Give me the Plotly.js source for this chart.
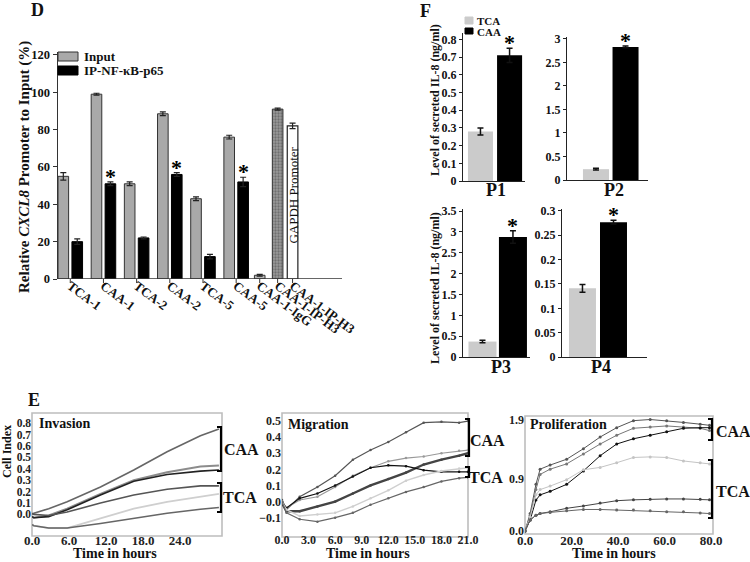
<!DOCTYPE html>
<html><head><meta charset="utf-8">
<script src="https://cdn.plot.ly/plotly-3.0.1.min.js"></script>
<style>html,body{margin:0;padding:0;background:#fff}#chart{width:750px;height:562px}</style>
</head><body><div id="chart"></div>
<script>
// ---------- Panel D data ----------
const dGroups = ["TCA-1","CAA-1","TCA-2","CAA-2","TCA-5","CAA-5"];
const dSeriesNames = ["Input","IP-NF-κB-p65"];
const dInput = [55, 99, 51, 88.5, 43, 76];
const dInputErr = [2, 0.5, 1, 1, 1, 1];
const dIP = [20, 51, 22, 56, 12, 52];
const dIPErr = [1.5, 1, 0.5, 1, 1.2, 2.5];
const dIPSig = [false, true, false, true, false, true];
const dCtrlLabels = ["CAA-1-IgG","CAA-1-IP-H3","CAA-1-IP-H3"];
const dCtrlVals = [2, 91, 82];
const dCtrlErr = [0.5, 0.5, 1.5];
const dCtrlNote = "GAPDH Promoter";

// ---------- Panel F data ----------
const fGroups = ["TCA","CAA"];
const fPanels = ["P1","P2","P3","P4"];
const fTCA = [0.28, 0.23, 0.37, 0.141];
const fTCAErr = [0.02, 0.02, 0.03, 0.008];
const fCAA = [0.71, 2.83, 2.88, 0.277];
const fCAAErr = [0.04, 0.02, 0.15, 0.004];

// ---------- Panel E data ----------
const invT = [0, 0.3, 2.7, 5.7, 11.1, 16.5, 21.9, 27.3, 30.3];
const invCAA1 = [0.0, 0.01, 0.05, 0.11, 0.24, 0.39, 0.55, 0.69, 0.75];
const invCAA2 = [-0.02, -0.03, -0.01, 0.05, 0.18, 0.30, 0.37, 0.42, 0.43];
const invCAA3 = [-0.02, -0.03, -0.02, 0.04, 0.17, 0.29, 0.35, 0.38, 0.39];
const invTCA1 = [0.01, 0.0, -0.01, 0.02, 0.10, 0.17, 0.22, 0.25, 0.25];
const invTCA2 = [-0.08, -0.10, -0.12, -0.12, -0.035, 0.05, 0.11, 0.155, 0.18];
const invTCA3 = [-0.09, -0.10, -0.12, -0.12, -0.08, -0.035, 0.01, 0.045, 0.06];

const migT = [0, 0.5, 2, 4, 6, 8, 10, 12, 14, 16, 18, 20, 21];
const migCAA1 = [0.01, -0.05, 0.03, 0.09, 0.16, 0.26, 0.32, 0.37, 0.43, 0.49, 0.495, 0.49, 0.5];
const migCAA2 = [0.0, -0.04, 0.01, 0.03, 0.09, 0.16, 0.21, 0.25, 0.27, 0.28, 0.30, 0.315, 0.32];
const migCAA3 = [-0.01, -0.06, -0.06, -0.03, 0.0, 0.05, 0.10, 0.14, 0.18, 0.23, 0.26, 0.285, 0.30];
const migTCA1 = [0.0, -0.04, 0.02, 0.05, 0.10, 0.155, 0.21, 0.225, 0.22, 0.195, 0.185, 0.185, 0.185];
const migTCA2 = [0.0, -0.05, -0.09, -0.08, -0.07, -0.03, 0.02, 0.07, 0.13, 0.165, 0.19, 0.205, 0.21];
const migTCA3 = [0.0, -0.07, -0.11, -0.125, -0.10, -0.07, -0.02, 0.02, 0.06, 0.09, 0.125, 0.145, 0.15];

const proT = [0, 2.2, 4.7, 6.5, 10.8, 17.9, 25.1, 32.3, 39.4, 46.6, 53.8, 60.9, 68.1, 75.3, 79.3];
const proCAA1 = [0, 0.30, 0.80, 1.06, 1.13, 1.23, 1.41, 1.61, 1.77, 1.89, 1.91, 1.89, 1.86, 1.83, 1.81];
const proCAA2 = [0, 0.27, 0.71, 0.97, 1.06, 1.15, 1.32, 1.49, 1.64, 1.76, 1.78, 1.80, 1.78, 1.76, 1.72];
const proCAA3 = [0, 0.19, 0.53, 0.62, 0.68, 0.80, 1.03, 1.29, 1.49, 1.58, 1.64, 1.70, 1.76, 1.77, 1.77];
const proTCA1 = [0, 0.24, 0.62, 0.71, 0.77, 0.88, 1.05, 1.09, 1.17, 1.26, 1.27, 1.26, 1.20, 1.17, 1.15];
const proTCA2 = [0, 0.19, 0.27, 0.30, 0.33, 0.39, 0.43, 0.48, 0.52, 0.535, 0.545, 0.55, 0.55, 0.545, 0.535];
const proTCA3 = [0, 0.19, 0.27, 0.30, 0.32, 0.35, 0.37, 0.37, 0.36, 0.36, 0.35, 0.33, 0.33, 0.31, 0.30];

// ---------- helpers (layout only) ----------
const W = 750, H = 562;
const FAM = "Liberation Serif";
const px = (a, b) => [a / W, b / W];
const py = (top, bottom) => [1 - bottom / H, 1 - top / H];
const X = v => v / W, Y = v => 1 - v / H;
const bfont = (s, c) => ({family: FAM, size: s, color: c || "#111", weight: "bold"});

const traces = [];
const annotations = [];
const shapes = [];

// ---------- Panel D ----------
const offs = 0.21, bw = 0.32;
const ctrlPos = [5.71, 6.25, 6.70];
const dTickVals = dGroups.map((_, i) => i).concat(ctrlPos);
const inputMarker = {color: "#a9a9a9", line: {color: "#333", width: 1}};
const ipMarker = {color: "#000", line: {color: "#000", width: 1}};
const errStyle = (arr) => ({type: "data", array: arr, color: "#222", thickness: 1.2, width: 3});
traces.push({type: "bar", name: dSeriesNames[0], x: dGroups.map((_, i) => i - offs), y: dInput, width: bw,
  marker: inputMarker, error_y: errStyle(dInputErr), xaxis: "x", yaxis: "y", showlegend: false});
traces.push({type: "bar", name: dSeriesNames[1], x: dGroups.map((_, i) => i + offs), y: dIP, width: bw,
  marker: ipMarker, error_y: errStyle(dIPErr), xaxis: "x", yaxis: "y", showlegend: false});
const ctrlMarkers = [
  {color: "#b5b5b5", line: {color: "#333", width: 1}},
  {color: "#9a9a9a", line: {color: "#333", width: 1}, pattern: {shape: ".", fgcolor: "#444", size: 3, solidity: 0.45, fillmode: "overlay"}},
  {color: "#fff", line: {color: "#222", width: 1.2}}
];
dCtrlLabels.forEach((lab, i) => {
  traces.push({type: "bar", name: lab, x: [ctrlPos[i]], y: [dCtrlVals[i]], width: bw,
    marker: ctrlMarkers[i], error_y: errStyle([dCtrlErr[i]]), showlegend: false, xaxis: "x", yaxis: "y"});
});
dIPSig.forEach((s, i) => {
  if (s) annotations.push({xref: "x", yref: "y", x: i + offs, y: dIP[i] + dIPErr[i], text: "*",
    showarrow: false, yanchor: "bottom", yshift: -9, font: bfont(22, "#000")});
});
annotations.push({xref: "x", yref: "y", x: ctrlPos[2], y: 45, text: dCtrlNote, textangle: -90,
  showarrow: false, font: {family: FAM, size: 13, color: "#111"}});
// x axis line and tick marks of panel D
shapes.push({type: "line", xref: "x domain", yref: "y", x0: 0, x1: 1, y0: 0, y1: 0, line: {color: "#333", width: 1.4}});
dTickVals.forEach(v => shapes.push({type: "line", xref: "x", yref: "paper", x0: v, x1: v, y0: Y(279), y1: Y(283),
  line: {color: "#333", width: 1}}));

// ---------- Panel F ----------
const fAxes = [["x2","y2"],["x3","y3"],["x4","y4"],["x5","y5"]];
const fWidths = [0.86, 0.88, 0.92, 0.87];
const fColors = ["#cbcbcb", "#000"];
fPanels.forEach((p, i) => {
  traces.push({type: "bar", name: fGroups[0], x: [fGroups[0]], y: [fTCA[i]], width: fWidths[i],
    marker: {color: fColors[0]}, error_y: {type: "data", array: [fTCAErr[i]], color: "#111", thickness: 1.5, width: 3},
    xaxis: fAxes[i][0], yaxis: fAxes[i][1], showlegend: false});
  traces.push({type: "bar", name: fGroups[1], x: [fGroups[1]], y: [fCAA[i]], width: fWidths[i],
    marker: {color: fColors[1]}, error_y: {type: "data", array: [fCAAErr[i]], color: "#111", thickness: 1.5, width: 3},
    xaxis: fAxes[i][0], yaxis: fAxes[i][1], showlegend: false});
  annotations.push({xref: fAxes[i][0], yref: fAxes[i][1], x: fGroups[1], y: fCAA[i] + fCAAErr[i], text: "*",
    showarrow: false, yanchor: "bottom", yshift: -9, font: bfont(22, "#000")});
});

// ---------- Panel E ----------
function addLine(xa, ya, t, v, color, w, msize) {
  traces.push({type: "scatter", mode: msize ? "lines+markers" : "lines", x: t, y: v, xaxis: xa, yaxis: ya,
    line: {color: color, width: w}, marker: {size: msize || 0, color: color}, showlegend: false});
}
addLine("x6","y6", invT, invCAA1, "#666", 1.6);
addLine("x6","y6", invT, invCAA2, "#8c8c8c", 2);
addLine("x6","y6", invT, invCAA3, "#222", 1.6);
addLine("x6","y6", invT, invTCA1, "#555", 1.6);
addLine("x6","y6", invT, invTCA2, "#cfcfcf", 1.8);
addLine("x6","y6", invT, invTCA3, "#666", 1.6);

addLine("x7","y7", migT, migCAA1, "#555", 1.2, 2.5);
addLine("x7","y7", migT, migCAA2, "#999", 1.2, 2.5);
addLine("x7","y7", migT, migCAA3, "#444", 2.4, 2.5);
addLine("x7","y7", migT, migTCA1, "#111", 1.2, 2.5);
addLine("x7","y7", migT, migTCA2, "#cfcfcf", 1.4, 2.5);
addLine("x7","y7", migT, migTCA3, "#666", 1.2, 2.5);

addLine("x8","y8", proT, proCAA1, "#555", 1, 3);
addLine("x8","y8", proT, proCAA2, "#777", 1, 3);
addLine("x8","y8", proT, proCAA3, "#111", 1, 3);
addLine("x8","y8", proT, proTCA1, "#c4c4c4", 1, 3);
addLine("x8","y8", proT, proTCA2, "#444", 1, 3);
addLine("x8","y8", proT, proTCA3, "#666", 1, 3);

// ---------- text annotations ----------
function txt(x, y, text, size, opts) {
  annotations.push(Object.assign({xref: "paper", yref: "paper", x: X(x), y: Y(y), text: text, showarrow: false,
    xanchor: "center", yanchor: "middle", font: bfont(size)}, opts || {}));
}
function rect(x0, y0, x1, y1, fill, lineColor) {
  shapes.push({type: "rect", xref: "paper", yref: "paper", x0: X(x0), x1: X(x1), y0: Y(y1), y1: Y(y0),
    fillcolor: fill, line: {color: lineColor || fill, width: 1}});
}
// legend of panel D
rect(58, 52, 78, 61, inputMarker.color, "#333");
rect(58, 66, 78, 75, ipMarker.color, "#000");
txt(82, 57, dSeriesNames[0], 13, {xanchor: "left"});
txt(82, 71, dSeriesNames[1], 13, {xanchor: "left"});
// legend of panel F
rect(465, 17, 473, 24, fColors[0]);
rect(465, 28, 473, 34, fColors[1]);
txt(475, 21, fGroups[0], 11, {xanchor: "left"});
txt(475, 32, fGroups[1], 11, {xanchor: "left"});

txt(37, 10, "D", 18);
txt(425, 11, "F", 18);
txt(34, 400, "E", 18);
txt(24, 167, "Relative <i>CXCL8</i> Promoter to Input (%)", 15, {textangle: -90});
txt(435, 100, "Level of secreted IL-8 (ng/ml)", 12, {textangle: -90});
txt(435, 288, "Level of secreted IL-8 (ng/ml)", 12, {textangle: -90});
txt(496, 190, fPanels[0], 18);
txt(614, 190, fPanels[1], 18);
txt(501, 367, fPanels[2], 18);
txt(601, 367, fPanels[3], 18);

txt(37, 423, "Invasion", 14, {xanchor: "left"});
txt(286, 424, "Migration", 14, {xanchor: "left"});
txt(528, 424, "Proliferation", 14, {xanchor: "left"});
txt(7, 452, "Cell Index", 12, {textangle: -90});
txt(115, 553, "Time in hours", 14);
txt(368, 553, "Time in hours", 14);
txt(614, 553, "Time in hours", 14);

txt(241, 449, "CAA", 16); txt(240, 497, "TCA", 16);
txt(487, 440, "CAA", 16); txt(486, 477, "TCA", 16);
txt(733, 431, "CAA", 16); txt(733, 491, "TCA", 16);

function bracket(x, y0, y1) {
  shapes.push({type: "path", xref: "paper", yref: "paper",
    path: `M ${X(x - 4)} ${Y(y0)} L ${X(x)} ${Y(y0)} L ${X(x)} ${Y(y1)} L ${X(x - 4)} ${Y(y1)}`,
    line: {color: "#000", width: 2.2}});
}
bracket(221, 427, 471); bracket(221, 483, 512);
bracket(469, 419, 456); bracket(469, 467, 477);
bracket(712, 419, 440); bracket(712, 460, 518);

// frames of the E plots
["6", "7", "8"].forEach(n => {
  shapes.push({type: "rect", xref: "x" + n + " domain", yref: "y" + n + " domain", x0: 0, x1: 1, y0: 0, y1: 1,
    line: {color: "#bdbdbd", width: 1.6}, fillcolor: "rgba(0,0,0,0)", layer: "below"});
});

// ---------- axes ----------
const fTick = bfont(12);
function fY(domY, range, dtick, anchor) {
  return {domain: domY, range: range, dtick: dtick, showline: true, linecolor: "#222", linewidth: 1.2,
    ticks: "outside", ticklen: 3, tickcolor: "#222", showgrid: false, zeroline: false, tickfont: fTick,
    anchor: anchor, automargin: false};
}
function fX(domX, range, anchor) {
  return {domain: domX, range: range, type: "category", showline: true, linecolor: "#222", linewidth: 1.2,
    showticklabels: false, ticks: "", showgrid: false, zeroline: false, anchor: anchor, automargin: false};
}
function eX(domX, range, tv, labelY, size) {
  return {domain: domX, range: range, tickvals: tv, tickformat: ".1f", showline: false, anchor: "free",
    position: Y(labelY), ticks: "", showgrid: false, zeroline: false, tickfont: bfont(size, "#222"),
    automargin: false};
}
function eY(domY, range, tv, anchor, size) {
  return {domain: domY, range: range, tickvals: tv, tickformat: ".1f", showline: false,
    ticks: "", showgrid: false,
    zeroline: false, tickfont: bfont(size, "#222"), anchor: anchor, automargin: false};
}

const layout = {
  width: W, height: H, margin: {l: 0, r: 0, t: 0, b: 0}, paper_bgcolor: "#fff", plot_bgcolor: "rgba(0,0,0,0)",
  barmode: "overlay", font: {family: FAM}, showlegend: false,
  xaxis: {domain: px(58, 342), range: [-0.37, 8.19], tickvals: dTickVals,
    ticktext: dGroups.concat(dCtrlLabels), tickangle: 37, ticks: "", anchor: "free", position: Y(275),
    showline: false, showgrid: false, zeroline: false, tickfont: bfont(13), automargin: false},
  yaxis: {domain: py(52, 279), range: [0, 121.6], tickvals: [0, 20, 40, 60, 80, 100, 120], ticks: "outside",
    ticklen: 4, tickcolor: "#333", showline: true, linecolor: "#333", linewidth: 1.4, showgrid: false,
    zeroline: false, tickfont: bfont(12.5), anchor: "x", automargin: false},
  xaxis2: fX(px(463, 525), [-0.6, 1.53], "y2"),
  yaxis2: fY(py(33, 181), [0, 0.836], 0.1, "x2"),
  xaxis3: fX(px(567, 648), [-0.98, 1.76], "y3"),
  yaxis3: fY(py(37, 180), [0, 3.04], 0.5, "x3"),
  xaxis4: fX(px(463, 530), [-0.64, 1.56], "y4"),
  yaxis4: fY(py(209, 357), [0, 3.55], 0.5, "x4"),
  xaxis5: fX(px(562, 647), [-0.66, 2.08], "y5"),
  yaxis5: fY(py(209, 357), [0, 0.304], 0.05, "x5"),
  xaxis6: eX(px(32, 222), [0, 30.8], [0, 6, 12, 18, 24], 531, 13),
  yaxis6: eY(py(413, 536), [-0.19, 0.89], [0, 0.1, 0.2, 0.3, 0.4, 0.5, 0.6, 0.7, 0.8], "x6", 11.5),
  xaxis7: eX(px(282, 468), [0, 21], [0, 3, 6, 9, 12, 15, 18, 21], 531, 12),
  yaxis7: eY(py(413, 537), [-0.22, 0.55], [-0.1, 0, 0.1, 0.2, 0.3, 0.4, 0.5], "x7", 12),
  xaxis8: eX(px(525, 713), [0, 80.8], [0, 20, 40, 60, 80], 531, 13),
  yaxis8: eY(py(416, 534), [-0.05, 1.97], [0, 0.9, 1.9], "x8", 12),
  annotations: annotations,
  shapes: shapes
};

Plotly.newPlot("chart", traces, layout, {staticPlot: true, displayModeBar: false});
</script>
</body></html>
